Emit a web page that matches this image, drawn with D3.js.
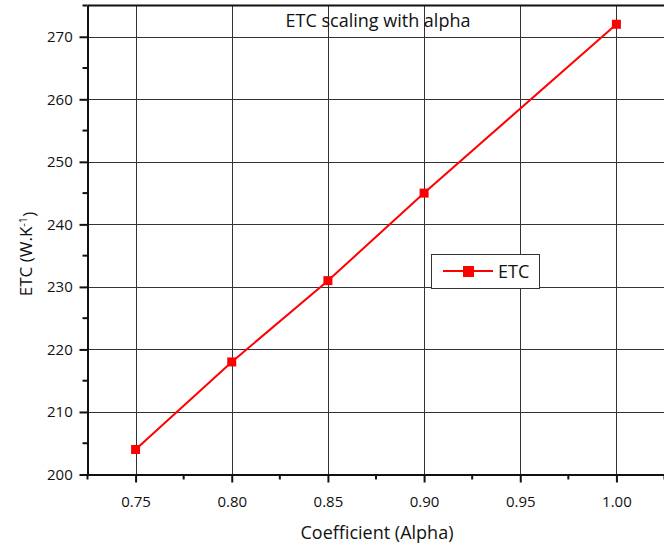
<!DOCTYPE html>
<html><head><meta charset="utf-8">
<script src="https://cdn.jsdelivr.net/npm/d3@7"></script>
<style>
body{margin:0;background:#fff;}
text{font-family:"Open Sans",sans-serif;fill:#111;}
</style></head>
<body><svg id="c" width="664" height="547"></svg>
<script>
const alphaValues = [0.75, 0.80, 0.85, 0.90, 1.00];
const etcValues = [204, 218, 231, 245, 272];
const xTicks = [0.75, 0.80, 0.85, 0.90, 0.95, 1.00];
const xMinor = [0.725, 0.775, 0.825, 0.875, 0.925, 0.975, 1.025];
const yTicks = [200, 210, 220, 230, 240, 250, 260, 270];
const yMinor = [205, 215, 225, 235, 245, 255, 265, 275];
const titleText = "ETC scaling with alpha";
const seriesName = "ETC";

const svg = d3.select("#c");
const L = 87.5, R = 664.5, T = 5.5, B = 474.5;
const x = d3.scaleLinear().domain([0.725, 1.025]).range([L, R]);
const y = d3.scaleLinear().domain([200, 275]).range([B, T]);

// grid
const g = svg.append("g");
g.selectAll(".gx").data(xTicks).join("line")
  .attr("x1", d => Math.round(x(d)) + 0.5).attr("x2", d => Math.round(x(d)) + 0.5)
  .attr("y1", T).attr("y2", B).attr("stroke", "#333").attr("stroke-width", 1);
g.selectAll(".gy").data(yTicks.slice(1)).join("line")
  .attr("y1", d => Math.round(y(d)) + 0.5).attr("y2", d => Math.round(y(d)) + 0.5)
  .attr("x1", L).attr("x2", R).attr("stroke", "#333").attr("stroke-width", 1);

// frame top
svg.append("line").attr("x1", L).attr("x2", R).attr("y1", T).attr("y2", T)
  .attr("stroke", "#111").attr("stroke-width", 2);

// axes
const xAxis = d3.axisBottom(x).tickValues(xTicks).tickFormat(d3.format(".2f")).tickSizeInner(8).tickSizeOuter(0);
const xa = svg.append("g").attr("transform", `translate(0,${B})`).call(xAxis);
const yAxis = d3.axisLeft(y).tickValues(yTicks).tickFormat(d3.format("d")).tickSizeInner(8).tickSizeOuter(0);
const ya = svg.append("g").attr("transform", `translate(${L},0)`).call(yAxis);
[xa, ya].forEach(a => {
  a.select(".domain").attr("stroke", "#111").attr("stroke-width", 2);
  a.selectAll(".tick line").attr("stroke", "#111").attr("stroke-width", 2);
  a.selectAll(".tick text").style("font-family", "'Open Sans',sans-serif").style("font-size", "15px").attr("fill", "#111");
});
xa.selectAll(".tick text").attr("dy", "1.45em");
ya.selectAll(".tick text").attr("dx", "-0.25em");
// minor ticks
xa.selectAll(".mx").data(xMinor).join("line")
  .attr("x1", d => x(d)).attr("x2", d => x(d)).attr("y1", 0).attr("y2", 5)
  .attr("stroke", "#111").attr("stroke-width", 2);
ya.selectAll(".my").data(yMinor).join("line")
  .attr("y1", d => y(d)).attr("y2", d => y(d)).attr("x1", 0).attr("x2", -5)
  .attr("stroke", "#111").attr("stroke-width", 2);

// series
const line = d3.line().x((d, i) => x(alphaValues[i])).y(d => y(d));
svg.append("path").datum(etcValues).attr("d", line)
  .attr("fill", "none").attr("stroke", "#ff0000").attr("stroke-width", 2);
svg.selectAll(".m").data(etcValues).join("rect")
  .attr("x", (d, i) => x(alphaValues[i]) - 4.5).attr("y", d => y(d) - 4.5)
  .attr("width", 9).attr("height", 9).attr("fill", "#ff0000");

// title
svg.append("text").attr("x", 378).attr("y", 27).attr("text-anchor", "middle")
  .style("font-size", "18px").text(titleText);

// legend
const lg = svg.append("g");
lg.append("rect").attr("x", 431.5).attr("y", 254.5).attr("width", 108).attr("height", 34)
  .attr("fill", "#fff").attr("stroke", "#333").attr("stroke-width", 1);
lg.append("line").attr("x1", 443).attr("x2", 493).attr("y1", 271).attr("y2", 271)
  .attr("stroke", "#ff0000").attr("stroke-width", 2);
lg.append("rect").attr("x", 463).attr("y", 266).attr("width", 11).attr("height", 11).attr("fill", "#ff0000");
lg.append("text").attr("x", 498).attr("y", 278).style("font-size", "18px").text(seriesName);

// axis labels
svg.append("text").attr("x", 377).attr("y", 539).attr("text-anchor", "middle")
  .style("font-size", "18px").text("Coefficient (Alpha)");
const yl = svg.append("text").attr("transform", "translate(32,254) rotate(-90)").attr("text-anchor", "middle")
  .style("font-size", "17px");
yl.append("tspan").text("ETC (W.K");
yl.append("tspan").attr("dy", "-0.5em").style("font-size", "11px").text("-1");
yl.append("tspan").attr("dy", "0.5em").text(")");
</script></body></html>
